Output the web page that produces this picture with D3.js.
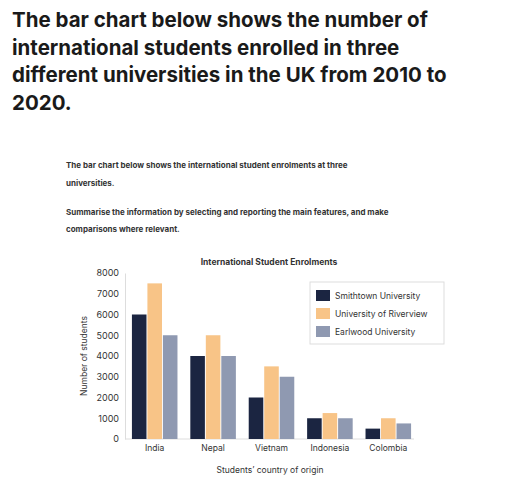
<!DOCTYPE html>
<html><head><meta charset="utf-8">
<script src="https://cdn.jsdelivr.net/npm/d3@7"></script>
<style>body{margin:0;background:#fff;font-family:Inter,"Noto Sans",sans-serif}</style>
</head><body><div id="chart"></div>
<script>
const countries = ["India", "Nepal", "Vietnam", "Indonesia", "Colombia"];
const series = ["Smithtown University", "University of Riverview", "Earlwood University"];
const smithtown = [6000, 4000, 2000, 1000, 500];
const riverview = [7500, 5000, 3500, 1250, 1000];
const earlwood = [5000, 4000, 3000, 1000, 750];
const yTicks = [0, 1000, 2000, 3000, 4000, 5000, 6000, 7000, 8000];
const colors = ["#1b2541", "#f8c487", "#8f99b1"];
const values = [smithtown, riverview, earlwood];

const svg = d3.select("#chart").append("svg").attr("width", 512).attr("height", 503);

// heading
const heading = ["The bar chart below shows the number of", "international students enrolled in three",
  "different universities in the UK from 2010 to", "2020."];
svg.selectAll(".h").data(heading).enter().append("text")
  .attr("x", 12).attr("y", (d, i) => 27 + i * 27.5)
  .attr("font-size", 20.5).attr("font-weight", 700).attr("fill", "#1a1a1a").text(d => d);

const sub = [[168, "The bar chart below shows the international student enrolments at three"],
  [186, "universities."], [215, "Summarise the information by selecting and reporting the main features, and make"],
  [232, "comparisons where relevant."]];
svg.selectAll(".s").data(sub).enter().append("text")
  .attr("x", 66).attr("y", d => d[0]).attr("font-size", 8).attr("font-weight", 700)
  .attr("fill", "#333").text(d => d[1]);

const x = d3.scaleBand().domain(countries).range([129, 414]).paddingInner(0.22).paddingOuter(0.05);
const xs = d3.scaleBand().domain(series).range([0, x.bandwidth()]).paddingInner(0.06);
const y = d3.scaleLinear().domain([0, 8000]).range([439, 273]);

svg.append("text").attr("x", 269).attr("y", 265).attr("text-anchor", "middle")
  .attr("font-size", 8.5).attr("font-weight", 700).attr("fill", "#333").text("International Student Enrolments");

const yAxis = svg.append("g").attr("transform", "translate(125,0)")
  .call(d3.axisLeft(y).tickValues(yTicks).tickFormat(d3.format("d")).tickSize(0).tickPadding(6));
yAxis.select(".domain").attr("stroke", "#ddd");
yAxis.selectAll("text").attr("font-size", 9).attr("fill", "#333").attr("font-family", "Inter,sans-serif");

const xAxis = svg.append("g").attr("transform", "translate(0,439)")
  .call(d3.axisBottom(x).tickSize(0).tickPadding(6));
xAxis.select(".domain").attr("stroke", "#ddd").attr("d", "M125,0H414");
xAxis.selectAll("text").attr("font-size", 8.5).attr("fill", "#333").attr("font-family", "Inter,sans-serif");

series.forEach((s, si) => {
  svg.selectAll(".b" + si).data(countries).enter().append("rect")
    .attr("x", d => x(d) + xs(s)).attr("width", xs.bandwidth())
    .attr("y", (d, i) => y(values[si][i])).attr("height", (d, i) => y(0) - y(values[si][i]))
    .attr("fill", colors[si]);
});

svg.append("text").attr("transform", "translate(87,356) rotate(-90)").attr("text-anchor", "middle")
  .attr("font-size", 8.5).attr("fill", "#333").text("Number of students");
svg.append("text").attr("x", 270).attr("y", 473).attr("text-anchor", "middle")
  .attr("font-size", 8.5).attr("fill", "#333").text("Students’ country of origin");

const lg = svg.append("g").attr("transform", "translate(310,282)");
lg.append("rect").attr("width", 134).attr("height", 62).attr("fill", "#fff").attr("stroke", "#ddd");
series.forEach((s, i) => {
  lg.append("rect").attr("x", 6).attr("y", 8 + i * 18).attr("width", 14).attr("height", 11).attr("fill", colors[i]);
  lg.append("text").attr("x", 25).attr("y", 17 + i * 18).attr("font-size", 8.5).attr("fill", "#333").text(s);
});
</script></body></html>
